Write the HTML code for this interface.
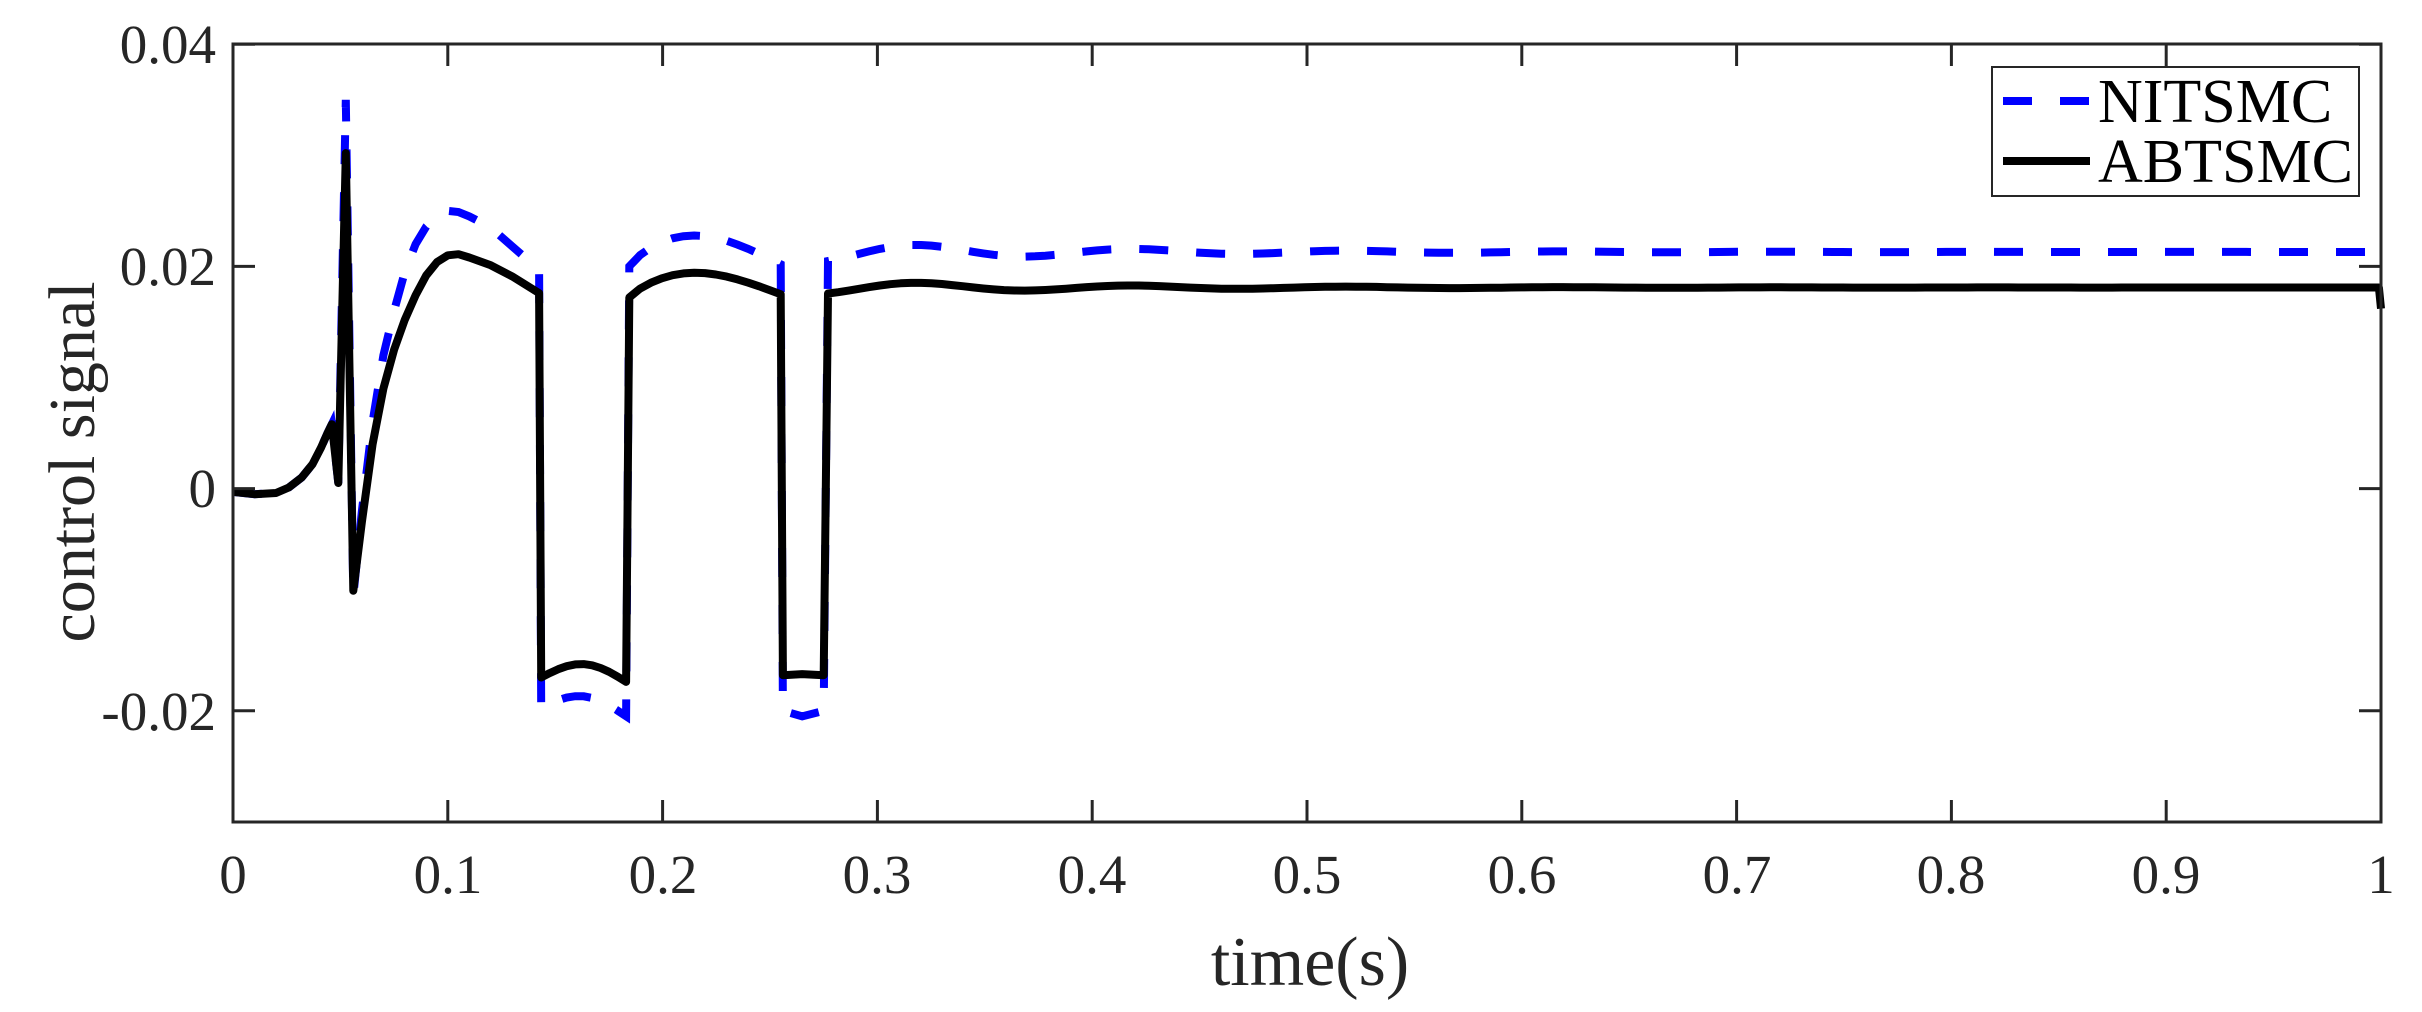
<!DOCTYPE html>
<html><head><style>
html,body{margin:0;padding:0;background:#fff;}
svg{display:block;}
text{font-family:"Liberation Serif",serif;fill:#262626;}
</style></head><body>
<svg id="s" width="2422" height="1012" xmlns="http://www.w3.org/2000/svg">
<rect width="2422" height="1012" fill="#fff"/>
<g id="plot"></g>
<g stroke="#262626" stroke-width="3" fill="none">
<rect x="233" y="44" width="2148" height="778"/>
</g>
<g id="ticks" stroke="#262626" stroke-width="3"></g>
<g font-size="55" text-anchor="middle">
<text x="233" y="893">0</text><text x="448" y="893">0.1</text><text x="663" y="893">0.2</text>
<text x="877" y="893">0.3</text><text x="1092" y="893">0.4</text><text x="1307" y="893">0.5</text>
<text x="1522" y="893">0.6</text><text x="1737" y="893">0.7</text><text x="1951" y="893">0.8</text>
<text x="2166" y="893">0.9</text><text x="2381" y="893">1</text>
</g>
<g font-size="55" text-anchor="end">
<text x="216" y="63">0.04</text><text x="216" y="285">0.02</text>
<text x="216" y="507">0</text><text x="216" y="730">-0.02</text>
</g>
<text x="1310" y="985" font-size="70" text-anchor="middle">time(s)</text>
<text transform="translate(94,462) rotate(-90)" font-size="66" text-anchor="middle">control signal</text>
<rect x="1992" y="67" width="367" height="129" fill="#fff" stroke="#262626" stroke-width="2"/>
<line x1="2003" y1="101" x2="2090" y2="101" stroke="#0000ff" stroke-width="8" stroke-dasharray="29,28"/>
<line x1="2003" y1="161" x2="2090" y2="161" stroke="#000" stroke-width="8"/>
<text x="2098" y="122" font-size="62" style="fill:#000">NITSMC</text>
<text x="2098" y="182" font-size="62" style="fill:#000">ABTSMC</text>
</svg>
<script>
const X=t=>233+2148*t, Y=v=>488.6-11110*v;
const tk=document.getElementById('ticks');
let h='';
for(let i=0;i<=10;i++){const x=X(i/10);h+=`<line x1="${x}" y1="822" x2="${x}" y2="800"/><line x1="${x}" y1="44" x2="${x}" y2="66"/>`;}
[0.04,0.02,0,-0.02].forEach(v=>{const y=Y(v);h+=`<line x1="233" y1="${y}" x2="255" y2="${y}"/><line x1="2381" y1="${y}" x2="2359" y2="${y}"/>`;});
tk.innerHTML=h;
function path(pts){return 'M'+pts.map(p=>X(p[0]).toFixed(1)+','+Y(p[1]).toFixed(1)).join(' L');}
function seg(a,b,f,n){const r=[];for(let i=0;i<=n;i++){const t=a+(b-a)*i/n;r.push([t,f(t)]);}return r;}
function build(s){
 let p=[[0,-0.0003],[0.01,-0.0005],[0.02,-0.0004],[0.026,0.0001],[0.032,0.001],[0.037,0.0022],[0.041,0.0037],[0.044,0.005],[0.046,0.0058],[0.049,0.0005],[0.0525,s.sp],[0.056,s.dn]];
 p=p.concat(s.rise);
 p=p.concat(seg(0.1435,0.183,t=>s.l1+s.lb*Math.sin(Math.PI*(t-0.1435)/0.0395)-(t-0.1435)*s.ls,10));
 p=p.concat(seg(0.1845,0.255,t=>{const u=(t-0.1845)/0.0705;return s.h2+(s.e2-s.h2)*u+s.bump*Math.sin(Math.PI*Math.pow(u,0.8));},14));
 p=p.concat([[0.256,s.l2],[0.265,s.l2m],[0.275,s.l2]]);
 p=p.concat(seg(0.277,1,t=>s.b+(s.h3-s.b)*Math.exp(-(t-0.277)/0.12)*Math.cos(2*Math.PI*(t-0.32)/0.1),150));
 p[p.length-1]=[0.999,s.b];
 if(s.end) p.push([1,s.end]);
 return p;
}
const blk=build({sp:0.0302,dn:-0.0092,
 rise:[[0.06,-0.003],[0.065,0.004],[0.07,0.009],[0.075,0.0125],[0.08,0.0152],[0.085,0.0174],[0.09,0.0192],[0.095,0.0204],[0.1,0.021],[0.105,0.0211],[0.11,0.0208],[0.12,0.0201],[0.13,0.0191],[0.1425,0.0176]],
 l1:-0.0170,lb:0.0014,ls:0.01,h2:0.0172,e2:0.0175,bump:0.0021,l2:-0.0168,l2m:-0.0167,b:0.0181,h3:0.0187,end:0.0162});
const blu=build({sp:0.035,dn:-0.0097,
 rise:[[0.06,-0.002],[0.065,0.006],[0.07,0.012],[0.075,0.016],[0.08,0.0195],[0.085,0.022],[0.09,0.0236],[0.095,0.0246],[0.1,0.025],[0.105,0.0249],[0.11,0.0245],[0.12,0.0235],[0.13,0.0218],[0.1425,0.0197]],
 l1:-0.0197,lb:0.0014,ls:0.02,h2:0.0200,e2:0.0202,bump:0.0027,l2:-0.0200,l2m:-0.0205,b:0.0213,h3:0.0222,end:null});
document.getElementById('plot').innerHTML=
`<path d="${path(blu)}" fill="none" stroke="#0000ff" stroke-width="8" stroke-dasharray="29,28"/>`+
`<path d="${path(blk)}" fill="none" stroke="#000" stroke-width="8" stroke-linejoin="round"/>`;
</script>
</body></html>
